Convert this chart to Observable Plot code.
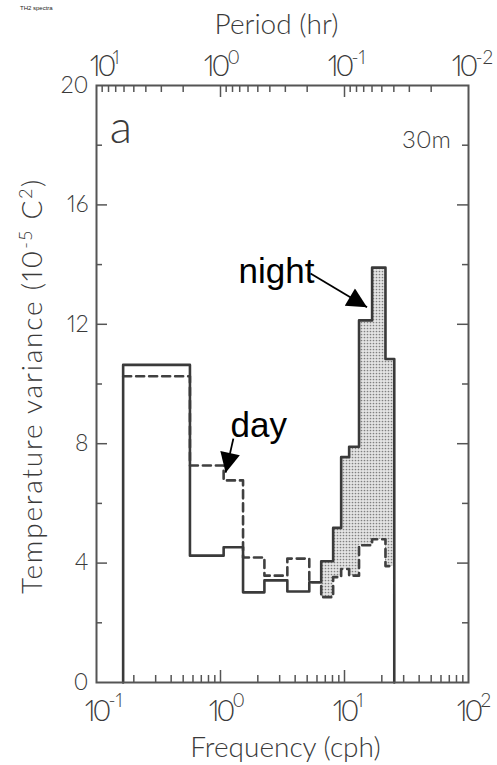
<!DOCTYPE html>
<html><head><meta charset="utf-8">
<script src="https://cdn.jsdelivr.net/npm/d3@7"></script>
<script src="https://cdn.jsdelivr.net/npm/@observablehq/plot@0.6"></script>
<style>
body{margin:0;background:#fff;}
#wrap{position:relative;width:497px;height:765px;}
#cap{position:absolute;left:20px;top:5px;font:6px "Liberation Sans",sans-serif;color:#222;}
#wrap svg{display:block;font-variant-numeric:proportional-nums;}
</style></head><body>
<div id="wrap"><div id="cap">TH2 spectra</div></div>
<script>
// Frequency bin edges (cph) and band-averaged variances (10^-5 C^2)
const binEdges = [0.164, 0.567, 1.06, 1.52, 2.26, 3.46, 5.20, 6.49, 8.10, 9.40, 10.9, 13.1, 16.7, 21.4, 25.2];
const nightVar = [10.64, 4.25, 4.53, 3.02, 3.42, 3.05, 3.36, 4.06, 5.18, 7.55, 7.9, 12.13, 13.9, 10.84];
const dayVar   = [10.26, 7.27, 6.77, 4.19, 3.58, 4.15, 3.36, 2.86, 3.53, 3.8, 3.58, 4.6, 4.8, 3.9];
const stippleFromBin = 7;

// axes
const yTickLabels = [0, 4, 8, 12, 16, 20];
const yTicksMajor = [4, 8, 12, 16];
const yTicksMinor = [2, 6, 10, 14, 18];
const freqDecades = [0.1, 1, 10, 100];
const freqExponents = ["-1", "0", "1", "2"];
const periodDecades = [10, 1, 0.1, 0.01];
const periodExponents = ["1", "0", "-1", "-2"];
const minorMultipliers = [2, 3, 4, 5, 6, 7, 8, 9];
const innerDecades = [0.1, 1, 10];

// annotations
const labelText = ["night", "day"];
const labelFreq = [1.40, 1.205];
const labelVar = [13.37, 8.22];
const arrowFrom = [[5.32, 13.70], [1.27, 8.17]];
const arrowTo = [[15.2, 12.57], [1.10, 7.03]];
const panelText = ["a", "30m"];
const panelFreq = [0.157, 45.8];
const panelVar = [18.06, 17.92];
const panelSize = [46, 24];

const W = 372, H = 597;
const n = nightVar.length;
const nightPts = [{x: binEdges[0], y: 0}, ...nightVar.map((v, i) => ({x: binEdges[i], y: v})), {x: binEdges[n], y: 0}];
const dayPts = [...dayVar.map((v, i) => ({x: binEdges[i], y: v})), {x: binEdges[n], y: dayVar[n - 1]}];
const band = [];
for (let i = stippleFromBin; i < n; i++) band.push({x: binEdges[i], y1: dayVar[i], y2: nightVar[i]});
band.push({x: binEdges[n], y1: dayVar[n - 1], y2: nightVar[n - 1]});

const freqMinor = innerDecades.flatMap(d => minorMultipliers.map(m => m * d));
const periodMinorFreq = [1, 0.1, 0.01].flatMap(p => minorMultipliers.map(m => 1 / (m * p)));
const periodMajorFreq = [1, 10];
const freqMajorInner = [1, 10];

const ink = "#3a3a3a";
const axisInk = "#555";
const lightFont = {fontWeight: 300, fill: ink};
const periodFirst = periodDecades.slice(0, 1), periodRest = periodDecades.slice(1);

const chart = Plot.plot({
  width: 497, height: 765,
  marginTop: 85, marginBottom: 83, marginLeft: 96, marginRight: 29,
  x: {type: "log", domain: [0.1, 100], axis: null},
  y: {domain: [0, 20], axis: null},
  style: {fontFamily: "Lato, 'DejaVu Sans', sans-serif", background: "white", overflow: "visible"},
  marks: [
    Plot.areaY(band, {x: "x", y1: "y1", y2: "y2", curve: "step-after", fill: "url(#stip)"}),
    Plot.line(dayPts, {x: "x", y: "y", curve: "step-after", stroke: "#404040", strokeWidth: 2.6, strokeDasharray: "8,5"}),
    Plot.line(nightPts, {x: "x", y: "y", curve: "step-after", stroke: "#3a3a3a", strokeWidth: 2.6}),
    Plot.frame({stroke: axisInk, strokeWidth: 2}),
    // bottom ticks
    Plot.tickX(freqMinor, {x: d => d, insetTop: H - 7, stroke: axisInk, strokeWidth: 1.5}),
    Plot.tickX(freqMajorInner, {x: d => d, insetTop: H - 12, stroke: axisInk, strokeWidth: 1.5}),
    // top ticks (period)
    Plot.tickX(periodMinorFreq, {x: d => d, insetBottom: H - 7, stroke: axisInk, strokeWidth: 1.5}),
    Plot.tickX(periodMajorFreq, {x: d => d, insetBottom: H - 12, stroke: axisInk, strokeWidth: 1.5}),
    // left / right ticks
    Plot.tickY(yTicksMajor, {y: d => d, insetRight: W - 11, stroke: axisInk, strokeWidth: 1.5}),
    Plot.tickY(yTicksMinor, {y: d => d, insetRight: W - 6, stroke: axisInk, strokeWidth: 1.5}),
    Plot.tickY(yTicksMajor, {y: d => d, insetLeft: W - 11, stroke: axisInk, strokeWidth: 1.5}),
    Plot.tickY(yTicksMinor, {y: d => d, insetLeft: W - 6, stroke: axisInk, strokeWidth: 1.5}),
    // y tick labels
    Plot.text(yTickLabels, {y: d => d, text: d => String(d), frameAnchor: "left", textAnchor: "end", dx: -8, fontSize: 23, ...lightFont}),
    // bottom frequency labels
    Plot.text(freqDecades, {x: d => d, text: () => "10", frameAnchor: "bottom", dy: 29, textAnchor: "middle", lineAnchor: "middle", fontSize: 29, ariaLabel: () => "base10", ...lightFont}),
    Plot.text(freqDecades, {x: d => d, text: (d, i) => freqExponents[i], frameAnchor: "bottom", dx: 12, dy: 18, textAnchor: "start", lineAnchor: "middle", fontSize: 19, ...lightFont}),
    // top period labels
    Plot.text(periodFirst, {x: d => 1 / d, text: () => "10", frameAnchor: "top", dx: 5, dy: -19, textAnchor: "middle", lineAnchor: "middle", fontSize: 29, ariaLabel: () => "base10", ...lightFont}),
    Plot.text(periodFirst, {x: d => 1 / d, text: (d, i) => periodExponents[i], frameAnchor: "top", dx: 16, dy: -28, textAnchor: "start", lineAnchor: "middle", fontSize: 19, ...lightFont}),
    Plot.text(periodRest, {x: d => 1 / d, text: () => "10", frameAnchor: "top", dx: -5, dy: -19, textAnchor: "middle", lineAnchor: "middle", fontSize: 29, ariaLabel: () => "base10", ...lightFont}),
    Plot.text(periodRest, {x: d => 1 / d, text: (d, i) => periodExponents[i + 1], frameAnchor: "top", dx: 7, dy: -28, textAnchor: "start", lineAnchor: "middle", fontSize: 19, ...lightFont}),
    // axis titles
    Plot.text(["Frequency (cph)"], {frameAnchor: "bottom", dx: 3, dy: 66, textAnchor: "middle", lineAnchor: "middle", fontSize: 28, ...lightFont}),
    Plot.text(["Period (hr)"], {frameAnchor: "top", dx: -6, dy: -60, textAnchor: "middle", lineAnchor: "middle", fontSize: 28, ...lightFont}),
    Plot.text(["Temperature variance (10-5 C2)"], {frameAnchor: "left", dx: -63, dy: 2, rotate: -90, textAnchor: "middle", lineAnchor: "middle", fontSize: 28, ariaLabel: () => "ytitle", ...lightFont}),
    // panel labels
    Plot.text(panelText, {x: panelFreq, y: panelVar, text: d => d, fontSize: (d, i) => panelSize[i], textAnchor: "middle", lineAnchor: "bottom", ...lightFont}),
    // annotations
    Plot.text(labelText, {x: labelFreq, y: labelVar, text: d => d, textAnchor: "start", lineAnchor: "bottom", fontSize: 35, fontFamily: "'Liberation Sans', Arial, sans-serif", fill: "#000"}),
    Plot.link([0, 1], {x1: i => arrowFrom[i][0], y1: i => arrowFrom[i][1], x2: i => arrowTo[i][0], y2: i => arrowTo[i][1], stroke: "#000", strokeWidth: 1.8, ariaLabel: () => "annot-arrow"})
  ]
});

document.getElementById("wrap").appendChild(chart);

const svg = d3.select(chart);
const defs = svg.insert("defs", ":first-child");
const pat = defs.append("pattern").attr("id", "stip").attr("width", 3).attr("height", 3).attr("patternUnits", "userSpaceOnUse");
pat.append("rect").attr("width", 3).attr("height", 3).attr("fill", "#e4e4e4");
pat.append("circle").attr("cx", 1.5).attr("cy", 1.5).attr("r", 0.85).attr("fill", "#808080");
const mk = defs.append("marker").attr("id", "ah").attr("viewBox", "0 0 20 20").attr("refX", 20).attr("refY", 10)
  .attr("markerWidth", 22).attr("markerHeight", 20).attr("markerUnits", "userSpaceOnUse").attr("orient", "auto");
mk.append("path").attr("d", "M0,0L20,10L0,20Z").attr("fill", "#000");
svg.selectAll('[aria-label="annot-arrow"]').each(function() {
  const el = d3.select(this);
  if (this.tagName === "path") el.attr("marker-end", "url(#ah)");
  else el.selectAll("path").attr("marker-end", "url(#ah)");
});
svg.selectAll('[aria-label="base10"]').attr("letter-spacing", "-3");
// superscripts in the y title, kept as real text
svg.selectAll('[aria-label="ytitle"]').each(function() {
  const t = this.tagName === "text" ? d3.select(this) : d3.select(this).select("text");
  t.text(null).attr("letter-spacing", "1.8");
  t.append("tspan").text("Temperature variance (10");
  t.append("tspan").attr("dy", -10).attr("font-size", 18).text("-5");
  t.append("tspan").attr("dy", 10).text(" C");
  t.append("tspan").attr("dy", -10).attr("font-size", 18).text("2");
  t.append("tspan").attr("dy", 10).text(")");
});
</script>
</body></html>
